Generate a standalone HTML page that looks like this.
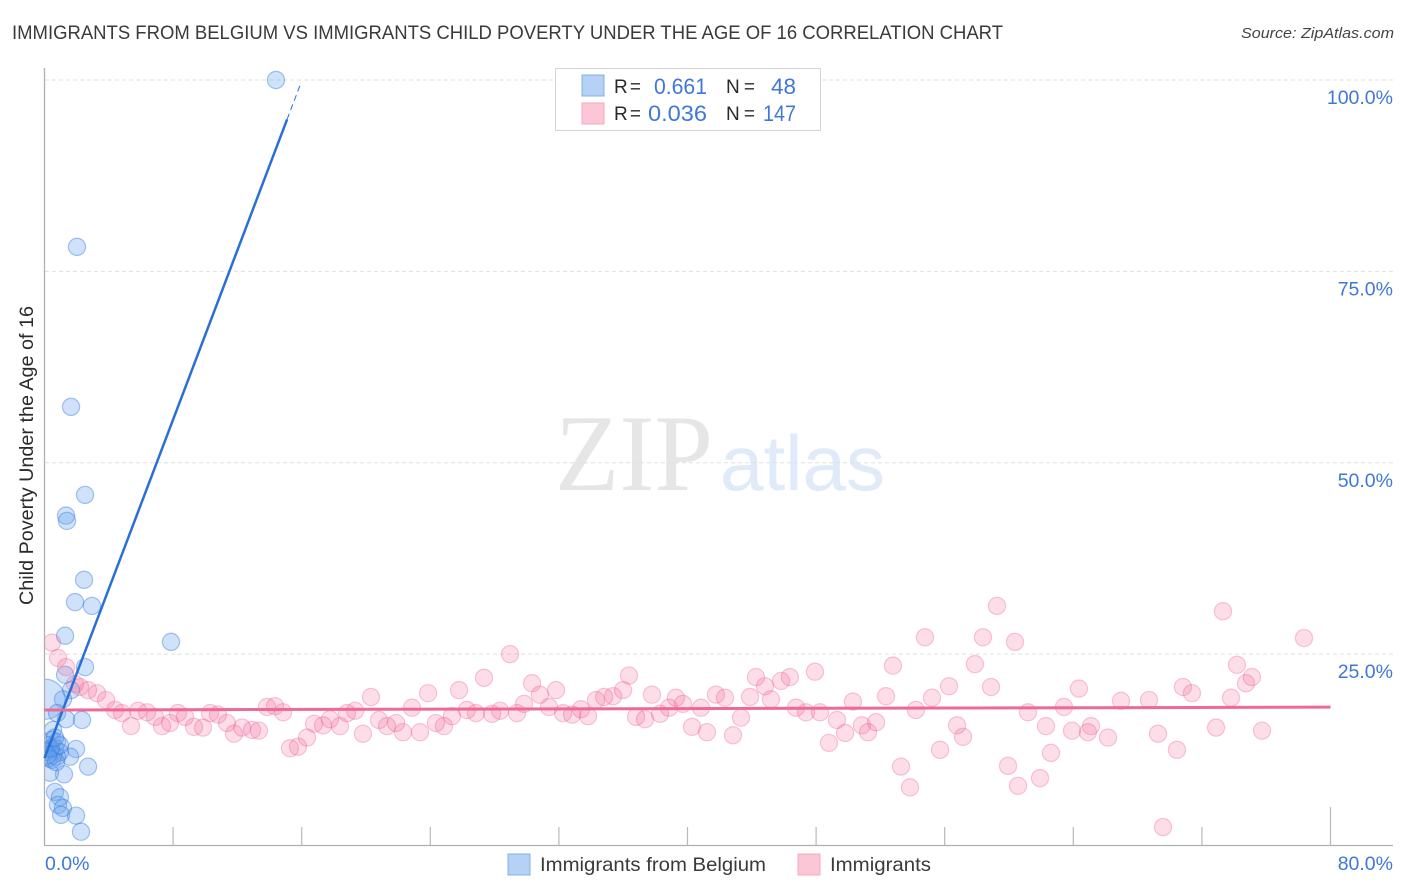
<!DOCTYPE html>
<html lang="en">
<head>
<meta charset="utf-8">
<title>Immigrants from Belgium vs Immigrants Child Poverty Correlation Chart</title>
<style>
html,body{margin:0;padding:0;background:#fff;}
svg{display:block;}
text{font-family:"Liberation Sans",sans-serif;}
</style>
</head>
<body>
<svg id="chart" xmlns="http://www.w3.org/2000/svg" width="1406" height="892" viewBox="0 0 1406 892">
  <defs>
    <clipPath id="plot-clip"><rect x="45" y="40" width="1350" height="806"/></clipPath>
  </defs>
  <rect x="0" y="0" width="1406" height="892" fill="#ffffff"/>
  <text x="12" y="39" font-size="19.5" fill="#3a3a3a" textLength="991" lengthAdjust="spacingAndGlyphs">IMMIGRANTS FROM BELGIUM VS IMMIGRANTS CHILD POVERTY UNDER THE AGE OF 16 CORRELATION CHART</text>
  <text x="1394" y="38" font-size="15" font-style="italic" fill="#444444" text-anchor="end" textLength="153" lengthAdjust="spacingAndGlyphs">Source: ZipAtlas.com</text>
  <g>
    <text x="555" y="490" font-size="109" fill="#e6e6e6" textLength="158" lengthAdjust="spacingAndGlyphs" style="font-family:'Liberation Serif',serif">ZIP</text>
    <text x="720" y="490" font-size="78" fill="#e0eaf9" textLength="165" lengthAdjust="spacingAndGlyphs">atlas</text>
  </g>
  <g id="grid"></g>
  <g id="axes"></g>
  <g id="blue-points" clip-path="url(#plot-clip)"></g>
  <g id="pink-points" clip-path="url(#plot-clip)"></g>
  <g id="trends"></g>
  <text transform="translate(33,455.5) rotate(-90)" font-size="19" fill="#2a2a2a" text-anchor="middle" textLength="299" lengthAdjust="spacingAndGlyphs">Child Poverty Under the Age of 16</text>
  <g id="tick-labels"></g>

  <g>
    <rect x="555.5" y="68.5" width="265" height="62" fill="#ffffff" stroke="#d4d4d4" stroke-width="1"/>
    <rect x="582" y="75" width="22" height="21" fill="#b5d1f6" stroke="#7fb0ea" stroke-width="1"/>
    <rect x="582" y="103" width="22" height="21" fill="#fbc6d6" stroke="#f4a9c1" stroke-width="1"/>
    <text x="614" y="93" font-size="19" fill="#2a2a2a" textLength="27">R =</text>
    <text x="654" y="94" font-size="22" fill="#4078d6" textLength="53" lengthAdjust="spacingAndGlyphs">0.661</text>
    <text x="726" y="93" font-size="19" fill="#2a2a2a" textLength="29">N =</text>
    <text x="771" y="94" font-size="22" fill="#4078d6" textLength="25" lengthAdjust="spacingAndGlyphs">48</text>
    <text x="614" y="120" font-size="19" fill="#2a2a2a" textLength="27">R =</text>
    <text x="648" y="121" font-size="22" fill="#4078d6" textLength="59" lengthAdjust="spacingAndGlyphs">0.036</text>
    <text x="726" y="120" font-size="19" fill="#2a2a2a" textLength="29">N =</text>
    <text x="763" y="121" font-size="22" fill="#4078d6" textLength="33" lengthAdjust="spacingAndGlyphs">147</text>
  </g>

  <g>
    <rect x="508" y="854" width="22" height="21" fill="#b5d1f6" stroke="#7fb0ea" stroke-width="1"/>
    <text x="540" y="871" font-size="19.5" fill="#3a3a3a" textLength="226" lengthAdjust="spacingAndGlyphs">Immigrants from Belgium</text>
    <rect x="798" y="854" width="22" height="21" fill="#fbc6d6" stroke="#f4a9c1" stroke-width="1"/>
    <text x="830" y="871" font-size="19.5" fill="#3a3a3a" textLength="101" lengthAdjust="spacingAndGlyphs">Immigrants</text>
  </g>
</svg>
<script>
// Chart data (all values in percent)
const yTickValues = [25, 50, 75, 100];
const yTickLabels = ["25.0%", "50.0%", "75.0%", "100.0%"];
const xTickValues = [8, 16, 24, 32, 40, 48, 56, 64, 72, 80];
const xEndLabels = ["0.0%", "80.0%"];
const xEndValues = [0, 80];

const blueX = [14.40,2.02,1.65,2.52,1.34,1.40,2.46,1.90,2.95,1.28,7.87,2.52,1.28,1.65,1.15,0.03,0.78,1.34,2.33,0.53,1.96,1.59,2.71,1.21,0.34,0.65,0.96,0.84,1.15,1.03,1.96,2.27,0.47,0.78,0.22,0.65,0.34,0.96,0.09,0.53,0.78,0.28,0.47,0.72,0.22,0.96,0.40,0.65];
const blueY = [100.0,78.2,57.3,45.8,43.1,42.4,34.7,31.8,31.3,27.4,26.6,23.3,22.3,20.3,19.1,19.1,17.3,16.5,16.4,15.1,12.6,11.6,10.3,9.3,9.5,7.0,6.3,5.3,4.9,4.0,3.9,1.8,13.8,13.5,13.1,12.7,12.5,12.2,12.2,11.8,11.6,11.4,11.2,10.9,11.8,13.1,12.7,14.1];
const blueWeight = [1,1,1,1,1,1,1,1,1,1,1,1,1,1,1,5.5,1,1,1,1,1,1,1,1,1,1,1,1,1,1,1,1,1,1,1,1,1,1,1,1,1,1,1,1,1,1,1,1];

const pinkX = [0.47,0.84,1.34,1.90,2.21,2.71,3.27,3.83,4.39,4.82,5.38,5.82,6.38,6.87,7.31,7.81,8.30,8.74,9.30,9.86,10.30,10.79,11.35,11.79,12.29,12.91,13.34,13.84,14.34,14.84,15.27,15.77,16.33,16.77,17.33,17.76,18.38,18.82,19.32,19.81,20.31,20.81,21.31,21.87,22.30,22.86,23.36,23.86,24.35,24.85,25.35,25.79,26.28,26.84,27.34,27.84,28.34,28.96,29.39,29.83,30.33,30.82,31.38,31.82,32.26,32.82,33.37,33.81,34.31,34.81,35.37,35.99,36.36,36.80,37.36,37.79,38.29,38.85,39.28,39.72,40.28,40.84,41.21,41.77,42.33,42.83,43.33,43.89,44.26,44.82,45.19,45.82,46.37,46.75,47.37,47.93,48.24,48.80,49.30,49.80,50.29,50.85,51.23,51.73,52.35,52.78,53.28,53.84,54.21,54.77,55.21,55.71,56.27,56.77,57.14,57.88,58.38,58.88,59.25,59.94,60.37,60.56,61.18,61.93,62.30,62.61,63.42,63.92,64.35,64.91,65.10,66.16,66.97,68.71,69.27,69.58,70.45,70.82,71.38,72.88,73.31,73.81,74.18,74.74,75.11,75.74,78.35];
const pinkY = [26.5,24.5,23.3,21.1,20.7,20.3,19.9,19.0,17.7,17.3,15.6,17.6,17.4,16.8,15.6,16.0,17.3,16.8,15.5,15.4,17.3,17.1,16.0,14.6,15.4,15.1,15.0,18.1,18.2,17.4,12.7,12.9,14.1,15.9,15.7,16.5,15.6,17.3,17.6,14.6,19.4,16.4,15.6,16.0,14.8,18.0,14.8,19.9,16.0,15.6,16.9,20.3,17.7,17.3,21.9,17.2,17.6,25.0,17.3,18.5,21.2,19.7,18.1,20.3,17.3,17.1,17.8,16.9,19.0,19.4,19.5,20.3,22.2,16.8,16.5,19.7,17.2,18.0,19.3,18.5,15.5,18.0,14.8,19.7,19.3,14.4,16.7,19.4,22.0,20.8,19.1,21.5,22.0,18.0,17.4,22.7,17.4,13.4,16.4,14.7,18.8,15.7,14.8,16.1,19.5,23.5,10.3,7.6,17.7,27.2,19.3,12.5,20.8,15.7,14.2,23.7,27.2,20.7,31.3,10.4,26.6,7.8,17.4,8.8,15.6,12.1,18.1,15.0,20.5,14.8,15.6,14.1,18.9,19.0,14.6,2.4,12.5,20.7,19.9,15.4,30.6,19.3,23.6,21.2,22.0,15.0,27.1];

const blueIntercept = 11.4;
const blueSlope = 5.53;
const blueSolidEndX = 15.09;
const blueDashedEndX = 15.97;
const pinkTrendStart = 17.7;
const pinkTrendEnd = 18.07;
const trendDomainEnd = 80;

// Axis functions
const xScale = v => 44.5 + v * 16.075;
const yScale = v => 845.5 - v * 7.655;

const NS = "http://www.w3.org/2000/svg";
function make(parentId, tag, attrs) {
  const el = document.createElementNS(NS, tag);
  for (const k in attrs) el.setAttribute(k, attrs[k]);
  document.getElementById(parentId).appendChild(el);
  return el;
}

// Gridlines
yTickValues.forEach(function (v) {
  const el = make("grid", "line", {x1: 45, x2: 1393, y1: yScale(v), y2: yScale(v), stroke: "#e0e0e0", "stroke-width": 1, "stroke-dasharray": "4 3"});
  
  
});

// Axes
const yAxisLine = make("axes", "line", {x1: 44.5, x2: 44.5, y1: 68, y2: 846, stroke: "#b0b0b0", "stroke-width": 1.3});


const xAxisLine = make("axes", "line", {x1: 44, x2: 1393, y1: 845.5, y2: 845.5, stroke: "#b0b0b0", "stroke-width": 1.3});


xTickValues.forEach(function (v, i) {
  const isLast = i === xTickValues.length - 1;
  const el = make("axes", "line", {x1: xScale(v), x2: xScale(v), y1: 845.5, y2: isLast ? 807 : 827, stroke: "#b8b8b8", "stroke-width": 1.2});
  
  
});

// Tick labels
yTickValues.forEach(function (v, i) {
  const el = make("tick-labels", "text", {x: 1393, y: yScale(v) + 24, "font-size": 19.5, fill: "#4078d6", "text-anchor": "end"});
  el.textContent = yTickLabels[i];
  
  
});
xEndValues.forEach(function (v, i) {
  const el = make("tick-labels", "text", {x: i === 0 ? 45 : 1393, y: 870, "font-size": 19.5, fill: "#4078d6", "text-anchor": i === 0 ? "start" : "end"});
  el.textContent = xEndLabels[i];
  
  
});

// Points
blueX.forEach(function (v, i) {
  const el = make("blue-points", "circle", {cx: xScale(v), cy: yScale(blueY[i]), r: 8.6 * Math.sqrt(blueWeight[i]), fill: "rgba(100,160,235,0.3)", stroke: "rgba(50,120,220,0.42)", "stroke-width": 1.2});
  
  
});
pinkX.forEach(function (v, i) {
  const el = make("pink-points", "circle", {cx: xScale(v), cy: yScale(pinkY[i]), r: 8.6, fill: "rgba(240,100,150,0.22)", stroke: "rgba(235,90,140,0.32)", "stroke-width": 1.2});
  
  
});

// Trend lines
const blueSolid = make("trends", "line", {x1: xScale(0), y1: yScale(blueIntercept), x2: xScale(blueSolidEndX), y2: yScale(blueIntercept + blueSlope * blueSolidEndX), stroke: "#2a6fd6", "stroke-width": 2.5});


const blueDashed = make("trends", "line", {x1: xScale(blueSolidEndX), y1: yScale(blueIntercept + blueSlope * blueSolidEndX), x2: xScale(blueDashedEndX), y2: yScale(blueIntercept + blueSlope * blueDashedEndX), stroke: "#2a6fd6", "stroke-width": 1, "stroke-dasharray": "6 4"});


const pinkTrend = make("trends", "line", {x1: xScale(0), y1: yScale(pinkTrendStart), x2: xScale(trendDomainEnd), y2: yScale(pinkTrendEnd), stroke: "#ec6a94", "stroke-width": 3});


</script>
</body>
</html>
